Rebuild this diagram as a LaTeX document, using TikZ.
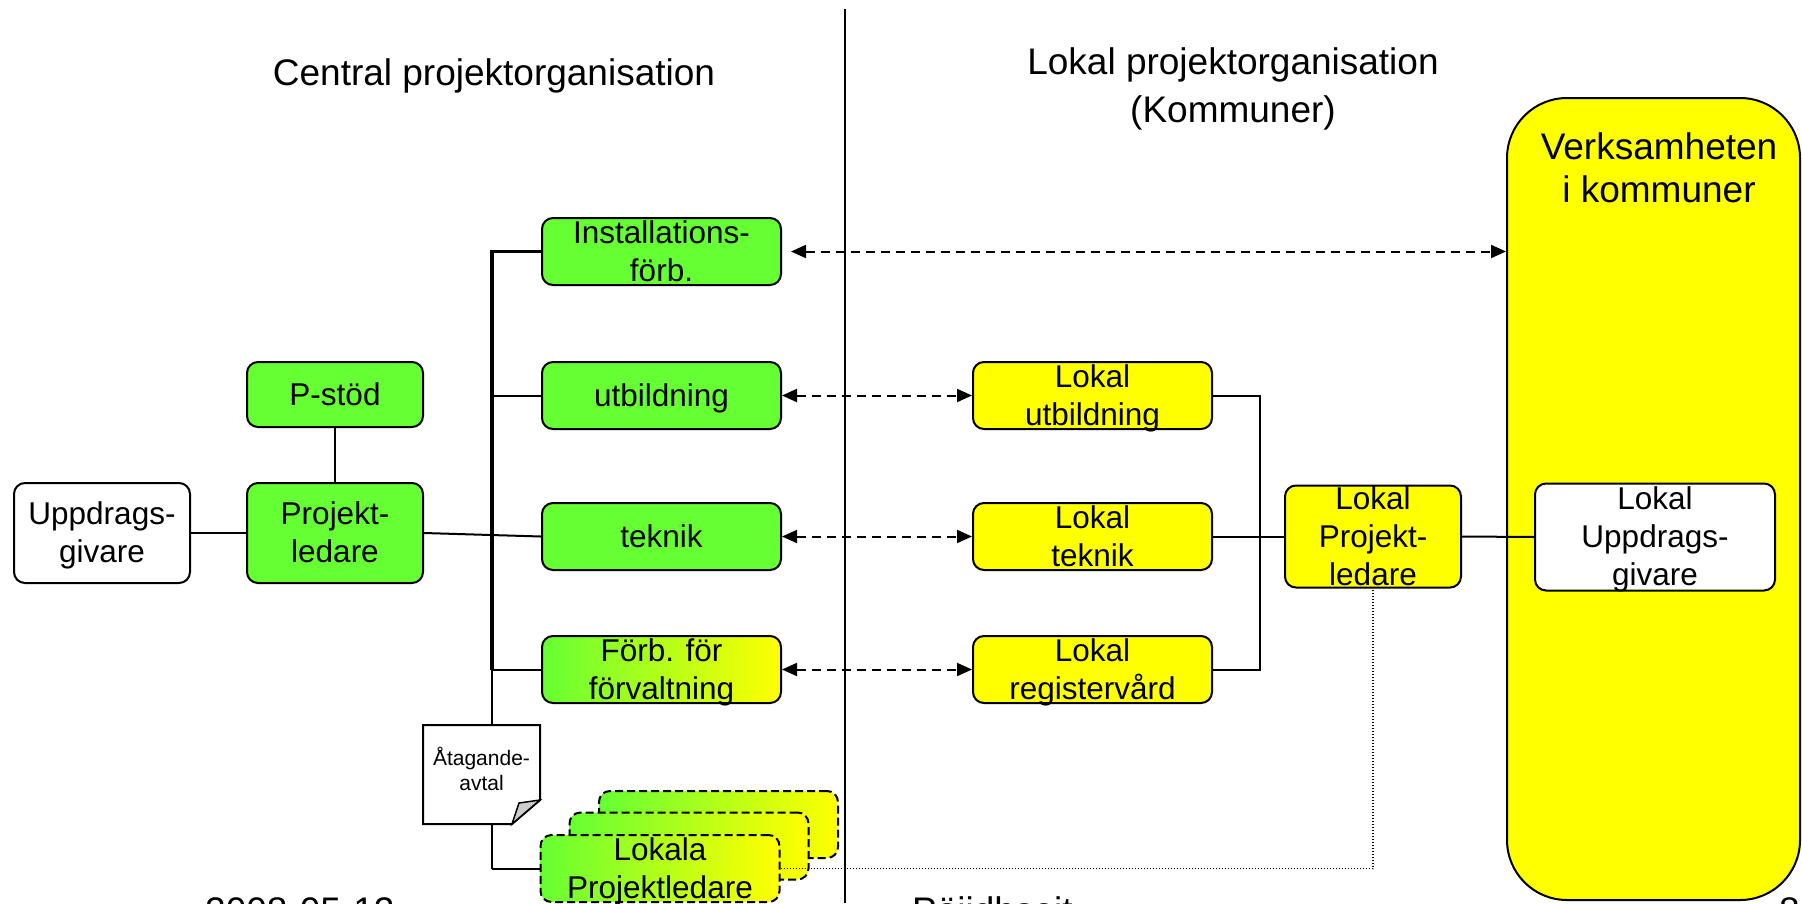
\documentclass[tikz,border=0pt]{standalone}
\usepackage{fontspec}
\setmainfont{Liberation Sans}
\usetikzlibrary{arrows.meta,calc}
\definecolor{grn}{RGB}{102,255,51}
\definecolor{yel}{RGB}{255,255,0}
\newcommand\boxfnt{\fontsize{31.5}{38}\selectfont}
\newcommand\titfnt{\fontsize{37}{48}\selectfont}
\newcommand\verkfnt{\fontsize{37}{43}\selectfont}
\newcommand\docfnt{\fontsize{21}{25}\selectfont}
\newcommand\ps{\vrule height .905em depth .212em width 0pt\relax}
\begin{document}
\begin{tikzpicture}[x=1pt,y=-1pt,
  lbl/.style={align=center,font=\boxfnt,inner sep=0pt},
  txt/.style={label={[lbl]center:#1}},
  box/.style={draw,line width=2pt,rounded corners=11pt,inner sep=0pt,minimum width=239pt,minimum height=67pt},
  gbox/.style={box,fill=grn},
  ybox/.style={box,fill=yel},
  wbox/.style={box,fill=white},
  gybox/.style={box,left color=grn,right color=yel},
  lokbox/.style={box,left color=grn,right color=yel,dash pattern=on 8pt off 4pt},
  conn/.style={line width=2pt},
  trunkline/.style={line width=3.5pt},
  darr/.style={line width=2pt,dash pattern=on 9pt off 6pt,{Triangle[length=15pt,width=13pt]}-{Triangle[length=15pt,width=13pt]}},
  dotl/.style={line width=1.5pt,dash pattern=on 1.5pt off 1.5pt},
  ttl/.style={font=\titfnt,align=center,inner sep=0pt}
]
\useasboundingbox (0,0) rectangle (1802,903);
\clip (0,0) rectangle (1802,903);

% titles
\node[ttl] (tcentral) at (494,76) {Central projektorganisation};
\node[ttl] (tlokal) at (1233,89) {Lokal projektorganisation\\(Kommuner)};

% big yellow area
\node[draw,line width=2pt,fill=yel,rounded corners=60pt,minimum width=293pt,minimum height=802pt,inner sep=0pt] (verk) at (1653.5,499) {};
\node[font=\verkfnt,align=center,inner sep=0pt] (verkt) at (1659,168) {Verksamheten\\i kommuner};

% boxes
\node[wbox,minimum width=176pt,minimum height=100pt,txt={\ps Uppdrags-\\\ps givare}] (upg) at (102,533) {};
\node[gbox,minimum width=176pt,minimum height=65pt,txt={\ps P-stöd}] (pstod) at (335,394.5) {};
\node[gbox,minimum width=176pt,minimum height=100pt,txt={\ps Projekt-\\\ps ledare}] (proj) at (335,533) {};
\node[gbox,txt={\ps Installations-\\\ps förb.}] (inst) at (661.5,251.5) {};
\node[gbox,txt={\ps utbildning}] (utb) at (661.5,395.5) {};
\node[gbox,txt={\ps teknik}] (tek) at (661.5,536.5) {};
\node[gybox,txt={\ps Förb. för\\\ps förvaltning}] (forb) at (661.5,669.5) {};
\node[ybox,txt={\ps Lokal\\\ps utbildning}] (lutb) at (1092.5,395.5) {};
\node[ybox,txt={\ps Lokal\\\ps teknik}] (ltek) at (1092.5,536.5) {};
\node[ybox,txt={\ps Lokal\\\ps registervård}] (lreg) at (1092.5,669.5) {};
\node[ybox,minimum width=176pt,minimum height=102pt,txt={\ps Lokal\\\ps Projekt-\\\ps ledare}] (lpl) at (1373,536.5) {};
\node[wbox,minimum width=240pt,minimum height=107pt,txt={\ps Lokal\\\ps Uppdrags-\\\ps givare}] (lupg) at (1655,537) {};

% trunk and branches
\coordinate (tA) at (492,251.5);
\coordinate (tF) at (492,669.5);
\coordinate (tL) at (492,868.5);
\draw[conn] (tF) -- (tL);
\draw[trunkline] (inst.west) -- (tA) -- (tF);
\draw[conn] (tA |- utb.west) -- (utb.west);
\draw[conn] (proj.east) -- (tek.west);
\draw[conn] (tF) -- (forb.west);
\draw[conn] (upg.east) -- (proj.west);
\draw[conn] (pstod.south) -- (proj.north);

% dashed double arrows
\draw[darr,shorten <=9pt] (inst.east) -- (inst.east -| verk.west);
\draw[darr] (utb.east) -- (lutb.west);
\draw[darr] (tek.east) -- (ltek.west);
\draw[darr] (forb.east) -- (lreg.west);

% local connections
\draw[conn] (lutb.east) -- ++(47,0) |- (lreg.east);
\draw[conn] (ltek.east) -- (lpl.west);
\draw[conn] (lpl.east) -- (lupg.west);

% Lokala projektledare stack
\node[lokbox] (lok3) at (718.5,824.5) {};
\node[lokbox] (lok2) at (689,846) {};
\node[lokbox,txt={\ps Lokala\\\ps Projektledare}] (lok1) at (660,868.5) {};
\draw[conn] (tL) -- (lok1.west);
\draw[dotl] (lok1.east) -| (lpl.south);

% agreement document
\draw[line width=2pt,fill=white] (423,725) -- (540,725) -- (540,800) -- (512,824) -- (423,824) -- cycle;
\draw[line width=1.5pt,fill=gray!40] (512,824) -- (519,803) -- (540,800) -- cycle;
\node[font=\docfnt,align=center,inner sep=0pt] (doc) at (481.5,769) {Åtagande-\\avtal};

% divider
\coordinate (dv1) at (845,9);
\coordinate (dv2) at (845,903);
\draw[line width=2pt] (dv1) -- (dv2);

% footer (cut off at the bottom)
\node[font=\titfnt,anchor=base west,inner sep=0pt] (fdate) at (205,923) {2008-05-12};
\node[font=\titfnt,anchor=base west,inner sep=0pt] (fmid) at (912,923) {Pöjidhseit};
\node[font=\titfnt,anchor=base west,inner sep=0pt] (fpage) at (1779,923) {8};
\end{tikzpicture}
\end{document}
